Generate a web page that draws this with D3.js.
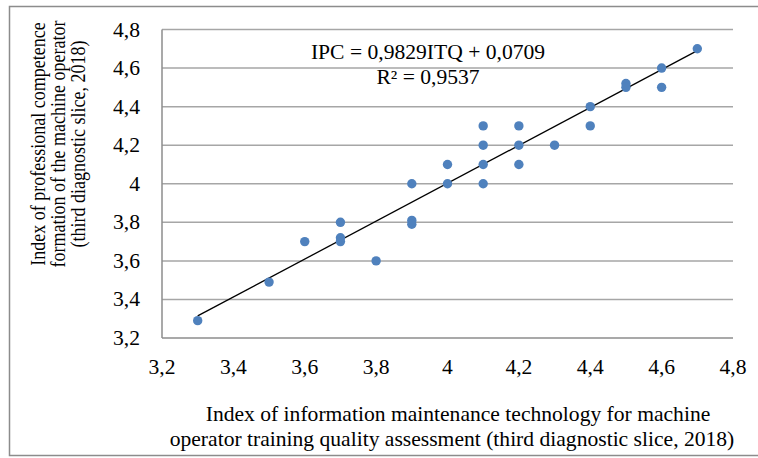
<!DOCTYPE html>
<html>
<head>
<meta charset="utf-8">
<script src="https://cdn.jsdelivr.net/npm/d3@7"></script>
<style>
html,body{margin:0;padding:0;background:#fff;}
svg{display:block;}
text{font-family:"Liberation Serif","Times New Roman",serif;fill:#000;}
</style>
</head>
<body>
<svg id="chart" width="758" height="458"></svg>
<script>
// ---- data ----
const itq = [3.3, 3.5, 3.6, 3.7, 3.7, 3.7, 3.8, 3.9, 3.9, 3.9, 4.0, 4.0, 4.1, 4.1, 4.1, 4.1, 4.2, 4.2, 4.2, 4.3, 4.4, 4.4, 4.5, 4.5, 4.6, 4.6, 4.7];
const ipc = [3.29, 3.49, 3.7, 3.8, 3.72, 3.7, 3.6, 4.0, 3.81, 3.79, 4.1, 4.0, 4.3, 4.2, 4.1, 4.0, 4.3, 4.2, 4.1, 4.2, 4.4, 4.3, 4.52, 4.5, 4.6, 4.5, 4.7];
const xTicks = [3.2, 3.4, 3.6, 3.8, 4.0, 4.2, 4.4, 4.6, 4.8];
const yTicks = [3.2, 3.4, 3.6, 3.8, 4.0, 4.2, 4.4, 4.6, 4.8];
const slope = 0.9829, intercept = 0.0709;
const trendX = [3.3, 4.7];
const equationLines = ["IPC = 0,9829ITQ + 0,0709", "R² = 0,9537"];
const xTitle = ["Index of information maintenance technology for machine",
                "operator training quality assessment (third diagnostic slice, 2018)"];
const yTitle = ["Index of professional competence",
                "formation of the machine operator",
                "(third diagnostic slice, 2018)"];

const fmt = v => (Math.round(v * 10) / 10).toString().replace(".", ",");

const svg = d3.select("#chart");
const SX = 1.08; // horizontal stretch of the original picture

// outer border
svg.append("rect").attr("x", 9.5).attr("y", 6.5).attr("width", 800).attr("height", 449)
  .attr("fill", "none").attr("stroke", "#8c8c8c").attr("stroke-width", 1.5);

const x = d3.scaleLinear().domain([3.2, 4.8]).range([162, 733]);
const y = d3.scaleLinear().domain([3.2, 4.8]).range([338, 29.5]);

// gridlines
svg.append("g").selectAll("line").data(yTicks.filter(t => t > 3.2)).join("line")
  .attr("x1", x(3.2)).attr("x2", x(4.8))
  .attr("y1", d => y(d)).attr("y2", d => y(d))
  .attr("stroke", "#a6a6a6").attr("stroke-width", 1.5);

// axes lines
svg.append("line").attr("x1", x(3.2)).attr("x2", x(4.8)).attr("y1", y(3.2)).attr("y2", y(3.2))
  .attr("stroke", "#8c8c8c").attr("stroke-width", 1.5);
svg.append("line").attr("x1", x(3.2)).attr("x2", x(3.2)).attr("y1", y(3.2)).attr("y2", y(4.8))
  .attr("stroke", "#8c8c8c").attr("stroke-width", 1.5);

function stretchedText(g, tx, ty, str, anchor, size) {
  return g.append("text")
    .attr("transform", `translate(${tx},${ty}) scale(${SX},1)`)
    .attr("text-anchor", anchor)
    .style("font-size", size + "px")
    .text(str);
}

// y tick labels
const gy = svg.append("g");
yTicks.forEach(t => stretchedText(gy, 140, y(t) + 7, fmt(t), "end", 20));
// x tick labels
const gx = svg.append("g");
xTicks.forEach(t => stretchedText(gx, x(t), 374, fmt(t), "middle", 20));

// trend line
svg.append("line")
  .attr("x1", x(trendX[0])).attr("y1", y(slope * trendX[0] + intercept))
  .attr("x2", x(trendX[1])).attr("y2", y(slope * trendX[1] + intercept))
  .attr("stroke", "#000").attr("stroke-width", 1.3);

// points
svg.append("g").selectAll("circle").data(itq.map((v, i) => [v, ipc[i]])).join("circle")
  .attr("cx", d => x(d[0])).attr("cy", d => y(d[1])).attr("r", 4.7)
  .attr("fill", "#4f81bd");

// equation
const ge = svg.append("g");
stretchedText(ge, 428, 59, equationLines[0], "middle", 20);
stretchedText(ge, 428, 84, equationLines[1], "middle", 20);

// x title
const gt = svg.append("g");
stretchedText(gt, 458, 421, xTitle[0], "middle", 20);
stretchedText(gt, 452, 446, xTitle[1], "middle", 20);

// y title
const gyt = svg.append("g");
yTitle.forEach((s, i) => {
  gyt.append("text")
    .attr("transform", `translate(${45 + i * 20},144) rotate(-90) scale(1,1.12)`)
    .attr("text-anchor", "middle")
    .style("font-size", "18px")
    .text(s);
});
</script>
</body>
</html>
